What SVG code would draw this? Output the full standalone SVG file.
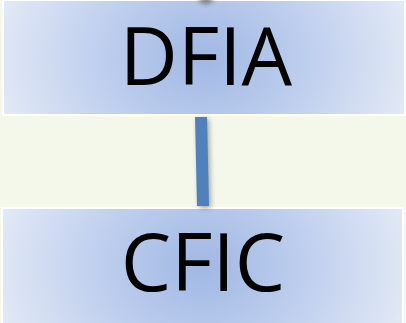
<svg xmlns="http://www.w3.org/2000/svg" width="406" height="323" viewBox="0 0 406 323">
<defs>
<radialGradient id="g" cx="0.5" cy="0.5" r="0.5" gradientTransform="translate(0.5 0.5) scale(1.05 3) translate(-0.5 -0.5)">
<stop offset="0" stop-color="#a0b8e4"/>
<stop offset="0.5" stop-color="#bfcfee"/>
<stop offset="1" stop-color="#e2e9f6"/>
</radialGradient>
<filter id="sh" x="-50%" y="-50%" width="200%" height="200%">
<feGaussianBlur stdDeviation="2.5"/>
</filter>
</defs>
<style>
.box{fill:url(#g);stroke:#ffffff;stroke-width:2}
.lbl{font-family:"Open Sans","Noto Sans",sans-serif;font-size:80px;fill:#000000;text-anchor:middle}
</style>
<rect x="0" y="0" width="406" height="323" fill="#f4f8ea"/>
<g id="node-dfia">
<rect class="box" x="3" y="0" width="402" height="115"/>
<ellipse cx="206" cy="-1" rx="7" ry="5" fill="#555" opacity="0.7" filter="url(#sh)"/>
<text class="lbl" x="206" y="85">DFIA</text>
</g>
<g id="node-cfic">
<rect class="box" x="2" y="208" width="401" height="116"/>
<text class="lbl" x="203" y="291">CFIC</text>
</g>
<g id="connectors">
<polygon points="197,119 209,119 211,208 199,208" fill="#555" opacity="0.5" filter="url(#sh)"/>
<polygon points="195,117 207,117 209,206 197,206" fill="#4f81bd"/>
</g>
</svg>
